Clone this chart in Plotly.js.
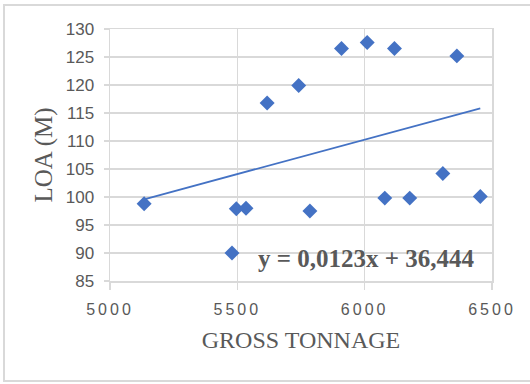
<!DOCTYPE html>
<html>
<head>
<meta charset="utf-8">
<script src="https://cdn.plot.ly/plotly-3.0.1.min.js"></script>
<style>
  html, body { margin: 0; padding: 0; background: #ffffff; }
  #wrap { position: relative; width: 530px; height: 384px; overflow: hidden; }
  #chart { position: absolute; left: 0; top: 0; width: 530px; height: 384px; }
  #frame { position: absolute; left: 3px; top: 4px; width: 560px; height: 378px;
           border: 2px solid #d9d9d9; box-sizing: border-box; pointer-events: none; }
  .xtick text { letter-spacing: 3px; }
</style>
</head>
<body>
<div id="wrap">
  <div id="chart"></div>
  <div id="frame"></div>
</div>
<script>
// Gross tonnage (x) and length overall in metres (y)
var grossTonnage = [5134, 5479, 5496, 5534, 5617, 5741, 5785, 5909, 6010, 6079, 6117, 6177, 6307, 6362, 6454];
var loa          = [98.8, 90.0, 97.9, 98.0, 116.8, 119.9, 97.5, 126.5, 127.6, 99.8, 126.5, 99.8, 104.2, 125.2, 100.1];

// Linear trendline as printed on the chart
var trendSlope = 0.0123;
var trendIntercept = 36.444;
var trendLabel = "y = 0,0123x + 36,444";

// Axis ticks
var xTickVals = [5000, 5500, 6000, 6500];
var yTickVals = [85, 90, 95, 100, 105, 110, 115, 120, 125, 130];

var xMin = Math.min.apply(null, grossTonnage);
var xMax = Math.max.apply(null, grossTonnage);
var trendX = [xMin, xMax];
var trendY = trendX.map(function (v) { return trendSlope * v + trendIntercept; });

var blue = '#4472C4';
var grid = '#d9d9d9';
var textGray = '#595959';

var data = [
  {
    type: 'scatter', mode: 'lines', x: trendX, y: trendY,
    line: { color: blue, width: 1.8 }, hoverinfo: 'skip', showlegend: false
  },
  {
    type: 'scatter', mode: 'markers', x: grossTonnage, y: loa,
    marker: { symbol: 'diamond', size: 11.5, color: blue, line: { width: 0 } },
    showlegend: false
  }
];

var layout = {
  width: 530, height: 384,
  margin: { l: 110, r: 38, t: 29, b: 103, pad: 0 },
  paper_bgcolor: 'rgba(0,0,0,0)',
  plot_bgcolor: '#ffffff',
  showlegend: false,
  xaxis: {
    range: [5000, 6500], tickvals: xTickVals, ticktext: xTickVals.map(String),
    showgrid: true, gridcolor: grid, gridwidth: 1.5,
    zeroline: false, showline: true, linecolor: grid, linewidth: 1.5, mirror: true,
    ticks: 'outside', ticklen: 7, tickcolor: grid, tickwidth: 1.5,
    ticklabelstandoff: 6,
    tickfont: { family: 'Liberation Sans, Arial, sans-serif', size: 16, color: textGray },
    title: { text: 'GROSS TONNAGE', standoff: 14,
             font: { family: 'Liberation Serif, Times New Roman, serif', size: 24, color: textGray } }
  },
  yaxis: {
    range: [85, 130], tickvals: yTickVals, ticktext: yTickVals.map(String),
    showgrid: true, gridcolor: grid, gridwidth: 1.5,
    zeroline: false, showline: true, linecolor: grid, linewidth: 1.5, mirror: true,
    ticks: 'outside', ticklen: 5, tickcolor: grid, tickwidth: 1.5,
    ticklabelstandoff: 6,
    tickfont: { family: 'Liberation Sans, Arial, sans-serif', size: 17, color: textGray },
    title: { text: 'LOA (M)', standoff: 6,
             font: { family: 'Liberation Serif, Times New Roman, serif', size: 25, color: textGray } }
  },
  annotations: [{
    text: '<b>' + trendLabel + '</b>',
    xref: 'x', yref: 'y', x: 6004, y: 89.1, showarrow: false,
    xanchor: 'center', yanchor: 'middle',
    font: { family: 'Liberation Serif, Times New Roman, serif', size: 25, color: textGray }
  }]
};

Plotly.newPlot('chart', data, layout, { staticPlot: true, displayModeBar: false });
</script>
</body>
</html>
